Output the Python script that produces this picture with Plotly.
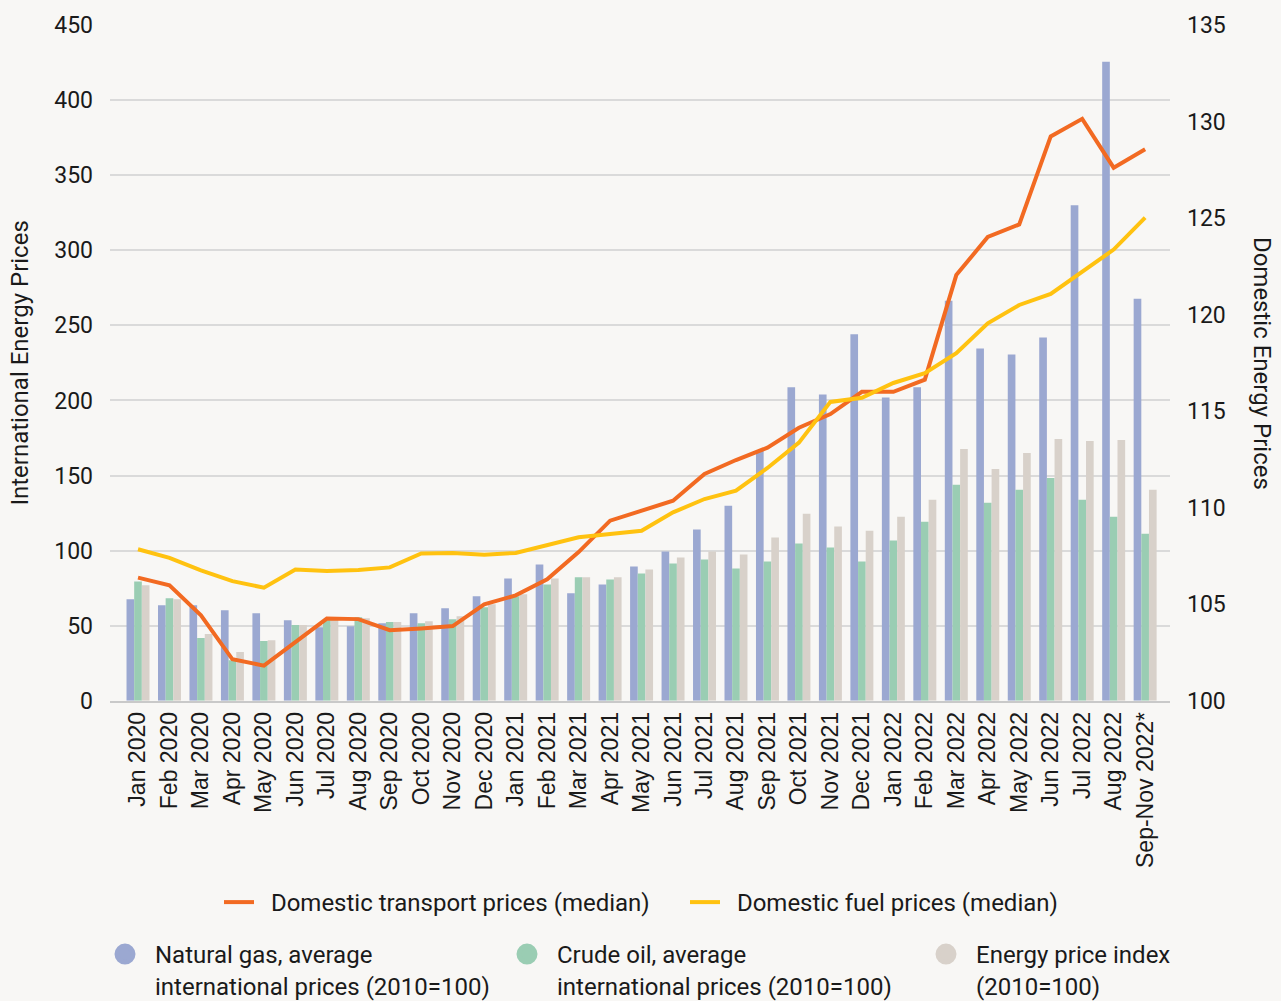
import plotly.graph_objects as go

categories = ["Jan 2020", "Feb 2020", "Mar 2020", "Apr 2020", "May 2020", "Jun 2020",
              "Jul 2020", "Aug 2020", "Sep 2020", "Oct 2020", "Nov 2020", "Dec 2020",
              "Jan 2021", "Feb 2021", "Mar 2021", "Apr 2021", "May 2021", "Jun 2021",
              "Jul 2021", "Aug 2021", "Sep 2021", "Oct 2021", "Nov 2021", "Dec 2021",
              "Jan 2022", "Feb 2022", "Mar 2022", "Apr 2022", "May 2022", "Jun 2022",
              "Jul 2022", "Aug 2022", "Sep-Nov 2022*"]

natural_gas = [67.6, 63.6, 63.6, 60.3, 58.3, 53.7, 49.0, 49.7, 51.7, 58.3, 61.6, 69.6,
               81.5, 90.8, 71.6, 77.5, 89.5, 99.4, 114.0, 129.9, 167.0, 208.8, 204.0, 244.0,
               202.0, 208.8, 266.4, 234.6, 230.6, 241.9, 330.0, 425.5, 267.7]
crude_oil = [79.5, 68.3, 41.8, 27.0, 39.8, 50.4, 53.7, 55.7, 52.4, 51.7, 54.3, 62.3,
             69.6, 77.5, 82.2, 80.8, 84.8, 91.5, 94.1, 88.1, 92.8, 104.7, 102.0, 92.8,
             106.7, 119.3, 143.8, 131.9, 140.5, 148.4, 133.9, 122.6, 111.3]
energy_index = [76.9, 67.6, 44.4, 32.5, 40.4, 50.4, 55.0, 55.0, 52.4, 53.0, 56.3, 64.3,
                70.9, 81.5, 82.2, 82.2, 87.5, 95.4, 99.4, 97.4, 108.7, 124.6, 116.0, 113.3,
                122.6, 133.9, 167.7, 154.4, 165.0, 174.3, 173.0, 173.6, 140.5]

transport = [106.38, 105.98, 104.43, 102.15, 101.82, 103.06, 104.26, 104.23, 103.66, 103.75, 103.87, 105.0,
             105.46, 106.29, 107.7, 109.33, 109.85, 110.36, 111.75, 112.47, 113.11, 114.14, 114.85, 116.0,
             116.0, 116.63, 122.05, 124.02, 124.67, 129.23, 130.14, 127.61, 128.56]
fuel = [107.85, 107.40, 106.75, 106.2, 105.86, 106.8, 106.72, 106.77, 106.91, 107.63, 107.66, 107.56,
        107.66, 108.08, 108.47, 108.64, 108.81, 109.76, 110.45, 110.88, 112.06, 113.37, 115.48, 115.69,
        116.46, 116.97, 118.0, 119.55, 120.5, 121.07, 122.22, 123.37, 125.02]

BLUE = "#9BA8D1"
GREEN = "#9ACDB3"
BEIGE = "#D8D1CA"
ORANGE = "#F26A22"
YELLOW = "#FFC210"
TXT = "#1a1a1a"
NB = "\u00a0\u00a0"

fig = go.Figure()

# bars (kept out of the legend, circles are added below instead)
for vals, col in [(natural_gas, BLUE), (crude_oil, GREEN), (energy_index, BEIGE)]:
    fig.add_trace(go.Bar(x=categories, y=vals, marker_color=col, marker_line_width=0,
                         showlegend=False))

# lines on the right axis
fig.add_trace(go.Scatter(x=categories, y=transport, yaxis="y2", mode="lines",
                         line=dict(color=ORANGE, width=4),
                         name=NB + "Domestic transport prices (median)", legend="legend"))
fig.add_trace(go.Scatter(x=categories, y=fuel, yaxis="y2", mode="lines",
                         line=dict(color=YELLOW, width=4),
                         name=NB + "Domestic fuel prices (median)", legend="legend2"))

# circle legend entries for the bars, one legend each so they can be placed
bar_names = ["Natural gas, average<br>international prices (2010=100)",
             "Crude oil, average<br>international prices (2010=100)",
             "Energy price index<br>(2010=100)"]
for i, (nm, col) in enumerate(zip(bar_names, [BLUE, GREEN, BEIGE])):
    fig.add_trace(go.Scatter(x=[None], y=[None], mode="markers", name=nm,
                             legend="legend%d" % (i + 3),
                             marker=dict(symbol="circle", size=16, color=col,
                                         line=dict(color=col, width=5))))

line_leg = dict(orientation="h", xref="container", yref="container",
                y=1 - 880 / 1001, yanchor="top", xanchor="left",
                font=dict(size=24, color=TXT), bgcolor="rgba(0,0,0,0)")
bar_leg = dict(orientation="h", xref="container", yref="container",
               y=1 - 932 / 1001, yanchor="top", xanchor="left", valign="top",
               itemwidth=50, font=dict(size=24, color=TXT), bgcolor="rgba(0,0,0,0)")

fig.update_layout(
    width=1281, height=1001,
    margin=dict(l=110, r=111, t=22, b=300),
    paper_bgcolor="#F8F7F5", plot_bgcolor="#F8F7F5",
    barmode="group", bargap=0.27, bargroupgap=0,
    font=dict(family="Roboto", size=23, color=TXT),
    xaxis=dict(type="category", range=[-0.89, 32.79], tickangle=-90,
               tickfont=dict(family="Liberation Sans", size=23, color=TXT),
               showgrid=False, showline=True, linecolor="#C9C9C9", linewidth=2,
               ticks=""),
    yaxis=dict(range=[0, 450], dtick=50, showgrid=True, gridcolor="#DADADA", gridwidth=2,
               zeroline=False, ticks="", ticklabelstandoff=16,
               tickfont=dict(size=23, color=TXT),
               title=dict(text="International Energy Prices", font=dict(size=24, color=TXT),
                          standoff=18)),
    yaxis2=dict(range=[100, 135], dtick=5, overlaying="y", side="right", showgrid=False,
                zeroline=False, ticks="", ticklabelstandoff=16,
                tickfont=dict(size=23, color=TXT)),
    legend=dict(line_leg, x=219 / 1281),
    legend2=dict(line_leg, x=685 / 1281),
    legend3=dict(bar_leg, x=95 / 1281),
    legend4=dict(bar_leg, x=497 / 1281),
    legend5=dict(bar_leg, x=916 / 1281),
    annotations=[dict(text="Domestic Energy Prices", textangle=90, xref="paper", yref="paper",
                      x=(1262 - 110) / 1060, xanchor="center", y=0.5, showarrow=False,
                      font=dict(size=24, color=TXT))],
)

fig.write_html("out.html", config={"displayModeBar": False},
               post_script="document.body.style.margin='0';")
